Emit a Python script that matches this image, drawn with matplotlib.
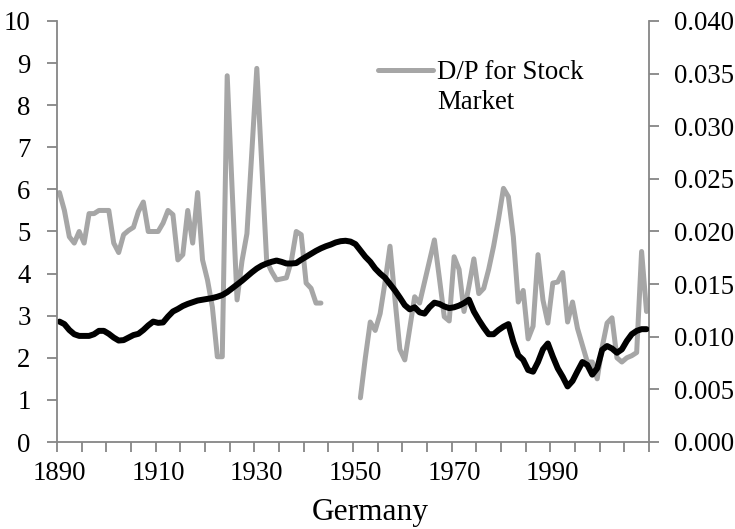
import numpy as np
import matplotlib
matplotlib.use("Agg")
import matplotlib.pyplot as plt
from matplotlib.lines import Line2D
from matplotlib.ticker import FixedLocator, FormatStrFormatter

plt.rcParams['font.family'] = ['Liberation Serif', 'DejaVu Serif']

years = list(range(1890, 2010))

# black series (left axis)
black_vals = [
    2.86, 2.80, 2.66, 2.56, 2.52, 2.52, 2.52, 2.56, 2.64, 2.64,   # 1890-1899
    2.57, 2.48, 2.41, 2.42, 2.48, 2.54, 2.57, 2.66, 2.77, 2.86,   # 1900-1909
    2.83, 2.84, 2.98, 3.10, 3.16, 3.23, 3.28, 3.32, 3.36, 3.38,   # 1910-1919
    3.40, 3.42, 3.45, 3.49, 3.56, 3.65, 3.74, 3.83, 3.93, 4.03,   # 1920-1929
    4.12, 4.19, 4.24, 4.28, 4.31, 4.28, 4.24, 4.24, 4.25, 4.33,   # 1930-1939
    4.40, 4.47, 4.54, 4.60, 4.65, 4.69, 4.74, 4.77, 4.78, 4.76,   # 1940-1949
    4.70, 4.55, 4.40, 4.28, 4.12, 4.00, 3.90, 3.75, 3.60, 3.43,   # 1950-1959
    3.25, 3.15, 3.20, 3.08, 3.05, 3.20, 3.31, 3.28, 3.22, 3.18,   # 1960-1969
    3.20, 3.24, 3.30, 3.38, 3.10, 2.90, 2.72, 2.56, 2.56, 2.66,   # 1970-1979
    2.74, 2.80, 2.38, 2.06, 1.95, 1.71, 1.67, 1.90, 2.20, 2.34,   # 1980-1989
    2.03, 1.75, 1.55, 1.32, 1.45, 1.68, 1.90, 1.83, 1.60, 1.75,   # 1990-1999
    2.19, 2.28, 2.22, 2.12, 2.20, 2.40, 2.56, 2.64, 2.68, 2.68,   # 2000-2009
]

# D/P for stock market (right axis)
nan = np.nan
dp_vals = [
    0.0237, 0.0220, 0.0195, 0.0189, 0.0200, 0.0189, 0.0217, 0.0217, 0.0220, 0.0220,  # 1890-1899
    0.0220, 0.0189, 0.0180, 0.0197, 0.0201, 0.0204, 0.0219, 0.0228, 0.0200, 0.0200,  # 1900-1909
    0.0200, 0.0208, 0.0220, 0.0216, 0.0173, 0.0178, 0.0220, 0.0189, 0.0237, 0.0173,  # 1910-1919
    0.0154, 0.0128, 0.0081, 0.0081, 0.0348, 0.0240, 0.0135, 0.0172, 0.0198, 0.0276,  # 1920-1929
    0.0355, 0.0264, 0.0172, 0.0162, 0.0154, 0.0155, 0.0156, 0.0172, 0.0200, 0.0197,  # 1930-1939
    0.0151, 0.0146, 0.0132, 0.0132, nan, nan, nan, nan, nan, nan,                    # 1940-1949
    nan, 0.0042, 0.0080, 0.0114, 0.0106, 0.0122, 0.0152, 0.0186, 0.0136, 0.0088,     # 1950-1959
    0.0078, 0.0108, 0.0138, 0.0132, 0.0152, 0.0172, 0.0192, 0.0156, 0.0119, 0.0115,  # 1960-1969
    0.0176, 0.0164, 0.0124, 0.0148, 0.0174, 0.0141, 0.0146, 0.0164, 0.0186, 0.0212,  # 1970-1979
    0.0241, 0.0233, 0.0195, 0.0133, 0.0144, 0.0098, 0.0110, 0.0178, 0.0135, 0.0113,  # 1980-1989
    0.0151, 0.0152, 0.0161, 0.0114, 0.0133, 0.0108, 0.0092, 0.0076, 0.0076, 0.0060,  # 1990-1999
    0.0090, 0.0113, 0.0118, 0.0080, 0.0076, 0.0080, 0.0082, 0.0085, 0.0181, 0.0124,  # 2000-2009
]

label_years = [1890, 1910, 1930, 1950, 1970, 1990]
left_ticks = list(range(0, 11))
right_ticks = [0.000, 0.005, 0.010, 0.015, 0.020, 0.025, 0.030, 0.035, 0.040]

axis_color = '#868686'
gray = '#A6A6A6'
fs = 19.3

fig = plt.figure(figsize=(7.35, 5.29), dpi=100)
ax = fig.add_axes([57/735, 1-442/529, (649-57)/735, (442-21)/529])
ax2 = ax.twinx()
ax.set_zorder(ax2.get_zorder() + 1)
ax.patch.set_visible(False)

ax.plot(years, black_vals, color='black', lw=4.3, solid_joinstyle='round', solid_capstyle='round')
gline, = ax2.plot(years, dp_vals, color=gray, lw=3.6, solid_joinstyle='round', solid_capstyle='round')

ax.set_xlim(1889.5, 2009.5)
ax.set_ylim(0, 10)
ax2.set_ylim(0, 0.04)

ax.set_xticks(label_years)
ax.set_xticklabels([str(y) for y in label_years])
ax.xaxis.set_minor_locator(FixedLocator(np.arange(1889.5, 2010, 5)))
ax.tick_params(axis='x', which='major', length=0, pad=14, labelsize=fs)
ax.tick_params(axis='x', which='minor', length=7, width=1.3, color=axis_color, direction='out')

ax.set_yticks(left_ticks)
ax.tick_params(axis='y', length=7, width=1.3, color=axis_color, direction='out', pad=12, labelsize=fs)
ax2.set_yticks(right_ticks)
ax2.yaxis.set_major_formatter(FormatStrFormatter('%.3f'))
ax2.tick_params(axis='y', length=7, width=1.3, color=axis_color, direction='out', pad=11, labelsize=fs)

for a in (ax, ax2):
    a.spines['top'].set_visible(False)
    for s in ('left', 'right', 'bottom'):
        a.spines[s].set_color(axis_color)
        a.spines[s].set_linewidth(1.3)
ax.spines['right'].set_visible(False)
ax2.spines['left'].set_visible(False)
ax2.spines['bottom'].set_visible(False)

handles = [gline, Line2D([], [], color='none')]
leg = ax2.legend(handles, ['D/P for Stock', 'Market'], loc='upper left',
                 bbox_to_anchor=((378-57)/592, 1-(60-21)/421), frameon=False,
                 fontsize=fs, handlelength=2.05, handletextpad=0.15, labelspacing=0.2,
                 borderpad=0, borderaxespad=0)

fig.text(370/735, 1-520/529, 'Germany', ha='center', va='baseline', fontsize=22.6)

fig.savefig('out.png', dpi=100)
